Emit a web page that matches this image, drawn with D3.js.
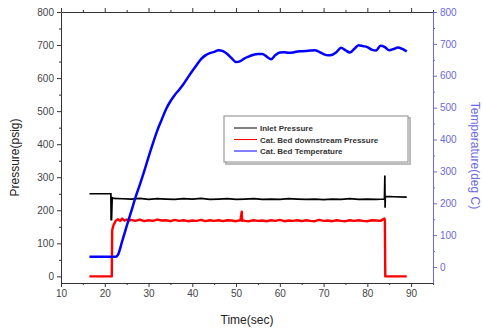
<!DOCTYPE html>
<html><head><meta charset="utf-8">
<script src="https://cdn.jsdelivr.net/npm/d3@7"></script>
<style>body{margin:0;background:#fff}text{font-family:"Liberation Sans",Arial,sans-serif}</style>
</head><body><svg id="c" width="483" height="334"></svg>
<script>
// ---- data ----
const xTicks = [10,20,30,40,50,60,70,80,90];
const leftTicks = [0,100,200,300,400,500,600,700,800];
const rightTicks = [0,100,200,300,400,500,600,700,800];
const seriesNames = ["Inlet Pressure","Cat. Bed downstream Pressure","Cat. Bed Temperature"];

const inletTime = [16.5,21.4,21.45,21.55,21.7,22,24,26,28,30,32,34,36,38,40,42,44,46,48,50,52,54,56,58,60,62,64,66,68,70,72,74,76,78,80,82,83.9,84.0,84.05,84.1,84.2,86,89];
const inletP    = [250,250,172,172,238,236,235,234,236,233,235,234,233,235,234,236,233,234,235,233,234,235,233,234,233,235,234,233,234,232,234,233,235,233,234,233,234,305,208,238,242,241,240];

const downTime = [16.5,21.6,21.7,22,22.5,23,23.5,24,24.5,25,25.5,26,27,28,29,30,31,32,33,34,35,36,37,38,39,40,41,42,43,44,45,46,47,48,49,50,51,51.3,51.4,51.5,52,53,54,55,56,57,58,59,60,61,62,63,64,65,66,67,68,69,70,71,72,73,74,75,76,77,78,79,80,81,82,83,83.9,84.0,84.1,89];
const downP    = [0,0,140,155,168,173,168,175,169,172,169,171,168,172,167,170,168,172,169,170,167,171,168,170,167,169,168,171,167,170,168,170,167,170,169,167,170,196,168,170,168,167,170,168,169,167,170,168,171,167,169,168,170,167,170,168,167,171,168,169,167,170,168,167,170,168,170,168,167,170,169,168,175,170,0,0];

const tempTime = [16.5,22.5,23,24,25,26,27,28,29,30,31,32,33,34,35,36,37,38,39,40,41,42,43,44,45,46,47,48,49,50,51,52,53,54,55,56,57,58,59,60,61,62,63,64,65,66,67,68,69,70,71,72,73,74,75,76,77,78,79,80,81,82,83,84,85,86,87,88,89];
const tempC    = [32,32,38,82,128,172,218,258,300,345,388,428,462,495,520,540,556,574,595,615,634,652,664,671,675,680,677,668,655,643,646,655,661,666,668,668,660,652,665,673,674,672,673,676,677,678,679,680,675,668,664,666,675,688,680,673,684,696,693,690,682,679,694,690,680,684,689,684,676];

// ---- layout ----
const svg = d3.select("#c");
const L = 61, R = 433, T = 12, B = 283;
const x = d3.scaleLinear().domain([10,95]).range([L,R]);
const yL = d3.scaleLinear().domain([-20,800]).range([B,T]);
const yR = d3.scaleLinear().domain([-50,800]).range([B,T]);
const blueAxis = "#6a6ae0";
const minorX = [15,25,35,45,55,65,75,85,95];

const gAx = svg.append("g");
const axBottom = gAx.append("g").attr("transform",`translate(0,${B})`)
  .call(d3.axisBottom(x).tickValues(xTicks).tickSize(4).tickSizeOuter(0).tickPadding(3));
axBottom.append("g").attr("class","minor").call(d3.axisBottom(x).tickValues(minorX).tickSize(2).tickFormat(""));
const axTop = gAx.append("g").attr("transform",`translate(0,${T})`)
  .call(d3.axisTop(x).tickValues(xTicks).tickSize(4).tickSizeOuter(0).tickFormat(""));
axTop.append("g").attr("class","minor").call(d3.axisTop(x).tickValues(minorX).tickSize(2).tickFormat(""));
const axLeft = gAx.append("g").attr("transform",`translate(${L},0)`)
  .call(d3.axisLeft(yL).tickValues(leftTicks).tickSize(4).tickSizeOuter(0).tickPadding(3));
axLeft.append("g").attr("class","minor").call(d3.axisLeft(yL).tickValues(leftTicks.map(v=>v+50).filter(v=>v<800)).tickSize(2).tickFormat(""));
const axRight = gAx.append("g").attr("transform",`translate(${R},0)`)
  .call(d3.axisRight(yR).tickValues(rightTicks).tickSize(4).tickSizeOuter(0).tickPadding(3));
axRight.append("g").attr("class","minor").call(d3.axisRight(yR).tickValues(rightTicks.map(v=>v+50).filter(v=>v<800)).tickSize(2).tickFormat(""));

gAx.selectAll("path.domain").attr("stroke","#333");
gAx.selectAll(".tick line").attr("stroke","#333");
gAx.selectAll("text").attr("font-size",10).attr("fill","#444");
axRight.selectAll("path.domain").attr("stroke",blueAxis);
axRight.selectAll(".tick line").attr("stroke",blueAxis);
axRight.selectAll("text").attr("fill",blueAxis);
gAx.selectAll("g.minor path.domain").remove();

// data lines
svg.append("clipPath").attr("id","cp").append("rect").attr("x",L).attr("y",T).attr("width",R-L).attr("height",B-T);
const plot = svg.append("g").attr("clip-path","url(#cp)");
const lineL = d3.line().x(d=>x(d[0])).y(d=>yL(d[1]));
const lineR = d3.line().x(d=>x(d[0])).y(d=>yR(d[1])).curve(d3.curveMonotoneX);
plot.append("path").datum(d3.zip(downTime,downP)).attr("d",lineL).attr("fill","none").attr("stroke","#ff0000").attr("stroke-width",2.4).attr("stroke-linejoin","round");
plot.append("path").datum(d3.zip(inletTime,inletP)).attr("d",lineL).attr("fill","none").attr("stroke","#000").attr("stroke-width",1.7);
plot.append("path").datum(d3.zip(tempTime,tempC)).attr("d",lineR).attr("fill","none").attr("stroke","#0000ff").attr("stroke-width",2.5);

// titles
svg.append("text").attr("x",(L+R)/2).attr("y",324).attr("text-anchor","middle").attr("font-size",12).attr("fill","#222").text("Time(sec)");
svg.append("text").attr("transform",`translate(19,${(T+B)/2+10}) rotate(-90)`).attr("text-anchor","middle").attr("font-size",12).attr("fill","#222").text("Pressure(psig)");
svg.append("text").attr("transform",`translate(471,${(T+B)/2+8}) rotate(90)`).attr("text-anchor","middle").attr("font-size",12).attr("fill",blueAxis).text("Temperature(deg C)");

// legend
const lg = svg.append("g");
lg.append("rect").attr("x",226).attr("y",118).attr("width",184).attr("height",46).attr("fill","none").attr("stroke","#bbb").attr("stroke-width",2);
lg.append("rect").attr("x",224).attr("y",116).attr("width",184).attr("height",46).attr("fill","#fff").attr("stroke","#888").attr("stroke-width",1);
const lcol = ["#000","#ff0000","#0000ff"];
seriesNames.forEach((n,i)=>{
  const yy = 128 + i*11.5;
  lg.append("line").attr("x1",234).attr("x2",257).attr("y1",yy).attr("y2",yy).attr("stroke",lcol[i]).attr("stroke-width",1);
  lg.append("text").attr("x",260).attr("y",yy+3).attr("font-size",8).attr("font-weight","bold").attr("fill","#333").text(n);
});
</script></body></html>
